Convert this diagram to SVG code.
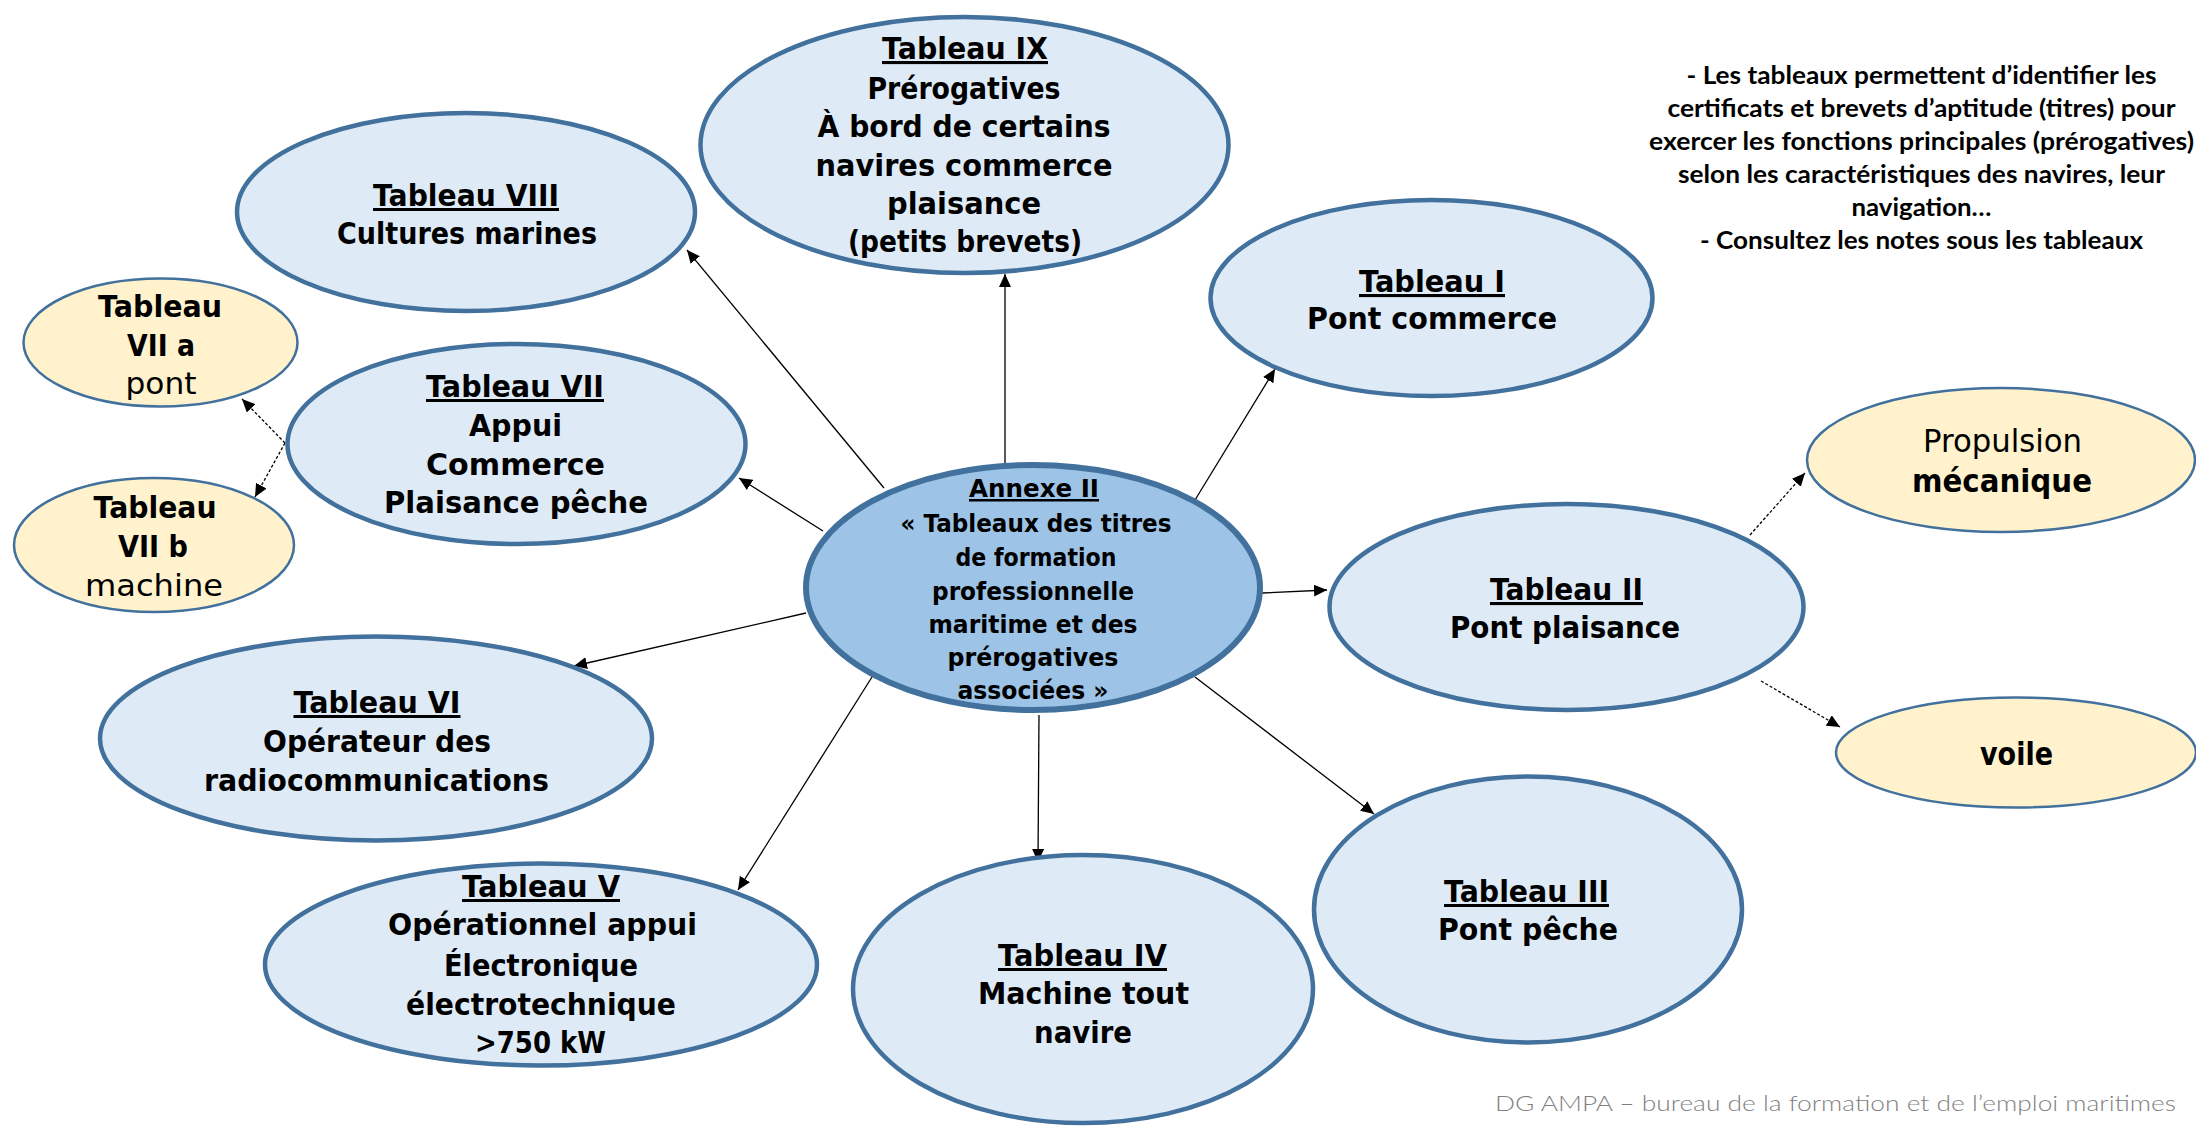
<svg xmlns="http://www.w3.org/2000/svg" width="2196" height="1127" viewBox="0 0 2196 1127">
<style>
.bg{fill:#ffffff}
.blue{fill:#DEEBF7;stroke:#41719C;stroke-width:4.5}
.main{fill:#9DC3E6;stroke:#41719C;stroke-width:6}
.yel{fill:#FFF2CC;stroke:#41719C;stroke-width:2.5}
text{font-family:"DejaVu Sans","Liberation Sans",sans-serif;fill:#000;text-anchor:middle}
.b{font-weight:bold}
.n{font-weight:normal}
.u{text-decoration:underline}
.f30{font-size:30px}
.f31{font-size:31px}
.f32{font-size:32px}
.f25{font-size:25px}
.note{font-family:Lato,"Liberation Sans",sans-serif;font-weight:bold;font-size:24px}
.foot{font-family:Lato,"Liberation Sans",sans-serif;font-weight:300;font-size:21px;fill:#7F7F7F;text-anchor:end}
.c{stroke:#000;stroke-width:1.3;fill:none;marker-end:url(#ah)}
.d{stroke:#000;stroke-width:1.3;fill:none;stroke-dasharray:3 2;marker-end:url(#ah)}
</style>
<defs>
<marker id="ah" markerUnits="userSpaceOnUse" markerWidth="14" markerHeight="12" refX="13" refY="6" orient="auto">
<path d="M0,0 L13,6 L0,12 z" fill="#000"/>
</marker>
</defs>
<rect class="bg" x="0" y="0" width="2196" height="1127"/>

<g id="connectors">
<line class="c" x1="1005" y1="463" x2="1005" y2="274"/>
<line class="c" x1="884" y1="488" x2="687" y2="250"/>
<line class="c" x1="823" y1="531" x2="739" y2="478"/>
<line class="c" x1="806" y1="613" x2="574" y2="666"/>
<line class="c" x1="872" y1="677" x2="738" y2="890"/>
<line class="c" x1="1039" y1="715" x2="1038" y2="862"/>
<line class="c" x1="1195" y1="677" x2="1374" y2="814"/>
<line class="c" x1="1262" y1="593" x2="1327" y2="590"/>
<line class="c" x1="1195" y1="500" x2="1275" y2="369"/>
<line class="d" x1="285" y1="443" x2="242" y2="399"/>
<line class="d" x1="285" y1="443" x2="255" y2="497"/>
<line class="d" x1="1750" y1="535" x2="1805" y2="473"/>
<line class="d" x1="1761" y1="681" x2="1840" y2="727"/>
</g>

<g id="annexe">
<ellipse class="main" cx="1033" cy="587.5" rx="227" ry="122.5"/>
<text class="b f25 u" x="1034" y="497" textLength="130" lengthAdjust="spacingAndGlyphs">Annexe II</text>
<text class="b f25" x="1036" y="532" textLength="271" lengthAdjust="spacingAndGlyphs">« Tableaux des titres</text>
<text class="b f25" x="1036" y="566" textLength="161" lengthAdjust="spacingAndGlyphs">de formation</text>
<text class="b f25" x="1033" y="600" textLength="202" lengthAdjust="spacingAndGlyphs">professionnelle</text>
<text class="b f25" x="1033" y="633" textLength="209" lengthAdjust="spacingAndGlyphs">maritime et des</text>
<text class="b f25" x="1033" y="666" textLength="171" lengthAdjust="spacingAndGlyphs">prérogatives</text>
<text class="b f25" x="1033" y="699" textLength="151" lengthAdjust="spacingAndGlyphs">associées »</text>
</g>

<g id="tableau-ix">
<ellipse class="blue" cx="964.5" cy="145" rx="264" ry="128"/>
<text class="b f31 u" x="965" y="59" textLength="166" lengthAdjust="spacingAndGlyphs">Tableau IX</text>
<text class="b f31" x="964" y="99" textLength="193" lengthAdjust="spacingAndGlyphs">Prérogatives</text>
<text class="b f31" x="964" y="137" textLength="293" lengthAdjust="spacingAndGlyphs">À bord de certains</text>
<text class="b f31" x="964" y="176" textLength="297" lengthAdjust="spacingAndGlyphs">navires commerce</text>
<text class="b f31" x="964" y="214" textLength="154" lengthAdjust="spacingAndGlyphs">plaisance</text>
<text class="b f31" x="965" y="252" textLength="234" lengthAdjust="spacingAndGlyphs">(petits brevets)</text>
</g>

<g id="tableau-viii">
<ellipse class="blue" cx="466" cy="212" rx="229" ry="99"/>
<text class="b f30 u" x="466" y="206" textLength="186" lengthAdjust="spacingAndGlyphs">Tableau VIII</text>
<text class="b f30" x="467" y="244" textLength="260" lengthAdjust="spacingAndGlyphs">Cultures marines</text>
</g>

<g id="tableau-vii-a">
<ellipse class="yel" cx="160.5" cy="342.5" rx="137" ry="64"/>
<text class="b f30" x="160" y="317" textLength="124" lengthAdjust="spacingAndGlyphs">Tableau</text>
<text class="b f30" x="161" y="356" textLength="68" lengthAdjust="spacingAndGlyphs">VII a</text>
<text class="n f30" x="161" y="394" textLength="71" lengthAdjust="spacingAndGlyphs">pont</text>
</g>

<g id="tableau-vii-b">
<ellipse class="yel" cx="154" cy="545" rx="140" ry="67"/>
<text class="b f30" x="155" y="518" textLength="123" lengthAdjust="spacingAndGlyphs">Tableau</text>
<text class="b f30" x="153" y="557" textLength="70" lengthAdjust="spacingAndGlyphs">VII b</text>
<text class="n f30" x="154" y="596" textLength="138" lengthAdjust="spacingAndGlyphs">machine</text>
</g>

<g id="tableau-vii">
<ellipse class="blue" cx="516.5" cy="444" rx="229" ry="100"/>
<text class="b f30 u" x="515" y="397" textLength="178" lengthAdjust="spacingAndGlyphs">Tableau VII</text>
<text class="b f30" x="515.5" y="436" textLength="93" lengthAdjust="spacingAndGlyphs">Appui</text>
<text class="b f30" x="515.5" y="475" textLength="179" lengthAdjust="spacingAndGlyphs">Commerce</text>
<text class="b f30" x="516" y="513" textLength="264" lengthAdjust="spacingAndGlyphs">Plaisance pêche</text>
</g>

<g id="tableau-vi">
<ellipse class="blue" cx="376" cy="738.5" rx="276" ry="102"/>
<text class="b f30 u" x="377" y="713" textLength="167" lengthAdjust="spacingAndGlyphs">Tableau VI</text>
<text class="b f30" x="377" y="752" textLength="228" lengthAdjust="spacingAndGlyphs">Opérateur des</text>
<text class="b f30" x="376.5" y="791" textLength="345" lengthAdjust="spacingAndGlyphs">radiocommunications</text>
</g>

<g id="tableau-v">
<ellipse class="blue" cx="541" cy="964.5" rx="276" ry="101"/>
<text class="b f30 u" x="541" y="897" textLength="158" lengthAdjust="spacingAndGlyphs">Tableau V</text>
<text class="b f30" x="542.5" y="935" textLength="309" lengthAdjust="spacingAndGlyphs">Opérationnel appui</text>
<text class="b f30" x="541" y="976" textLength="194" lengthAdjust="spacingAndGlyphs">Électronique</text>
<text class="b f30" x="541" y="1015" textLength="270" lengthAdjust="spacingAndGlyphs">électrotechnique</text>
<text class="b f30" x="540.5" y="1053" textLength="131" lengthAdjust="spacingAndGlyphs">&gt;750 kW</text>
</g>

<g id="tableau-iv">
<ellipse class="blue" cx="1083" cy="989" rx="230" ry="134"/>
<text class="b f30 u" x="1082.5" y="966" textLength="169" lengthAdjust="spacingAndGlyphs">Tableau IV</text>
<text class="b f30" x="1083.5" y="1004" textLength="211" lengthAdjust="spacingAndGlyphs">Machine tout</text>
<text class="b f30" x="1083" y="1043" textLength="98" lengthAdjust="spacingAndGlyphs">navire</text>
</g>

<g id="tableau-iii">
<ellipse class="blue" cx="1528" cy="909.5" rx="214" ry="133"/>
<text class="b f30 u" x="1526.5" y="902" textLength="165" lengthAdjust="spacingAndGlyphs">Tableau III</text>
<text class="b f30" x="1528" y="940" textLength="180" lengthAdjust="spacingAndGlyphs">Pont pêche</text>
</g>

<g id="tableau-ii">
<ellipse class="blue" cx="1566.5" cy="607" rx="237" ry="103"/>
<text class="b f31 u" x="1566.5" y="600" textLength="153" lengthAdjust="spacingAndGlyphs">Tableau II</text>
<text class="b f31" x="1565" y="638" textLength="230" lengthAdjust="spacingAndGlyphs">Pont plaisance</text>
</g>

<g id="tableau-i">
<ellipse class="blue" cx="1431.5" cy="298" rx="221" ry="98"/>
<text class="b f31 u" x="1432" y="292" textLength="146" lengthAdjust="spacingAndGlyphs">Tableau I</text>
<text class="b f31" x="1432" y="329" textLength="250" lengthAdjust="spacingAndGlyphs">Pont commerce</text>
</g>

<g id="propulsion-mecanique">
<ellipse class="yel" cx="2001" cy="460" rx="194" ry="72"/>
<text class="n f32" x="2002.5" y="452" textLength="159" lengthAdjust="spacingAndGlyphs">Propulsion</text>
<text class="b f32" x="2002" y="492" textLength="180" lengthAdjust="spacingAndGlyphs">mécanique</text>
</g>

<g id="voile">
<ellipse class="yel" cx="2016" cy="752.5" rx="180" ry="55"/>
<text class="b f32" x="2016.5" y="765" textLength="73" lengthAdjust="spacingAndGlyphs">voile</text>
</g>

<g id="note">
<text class="note" x="1921.5" y="84" textLength="470" lengthAdjust="spacingAndGlyphs">- Les tableaux permettent d’identifier les</text>
<text class="note" x="1921.5" y="117" textLength="508" lengthAdjust="spacingAndGlyphs">certificats et brevets d’aptitude (titres) pour</text>
<text class="note" x="1921.5" y="150" textLength="545" lengthAdjust="spacingAndGlyphs">exercer les fonctions principales (prérogatives)</text>
<text class="note" x="1921.5" y="183" textLength="487" lengthAdjust="spacingAndGlyphs">selon les caractéristiques des navires, leur</text>
<text class="note" x="1921.5" y="216" textLength="140" lengthAdjust="spacingAndGlyphs">navigation…</text>
<text class="note" x="1921.5" y="249" textLength="443" lengthAdjust="spacingAndGlyphs">- Consultez les notes sous les tableaux</text>
</g>

<g id="footer">
<text class="foot" x="2176" y="1111" textLength="681" lengthAdjust="spacingAndGlyphs">DG AMPA – bureau de la formation et de l’emploi maritimes</text>
</g>
</svg>
